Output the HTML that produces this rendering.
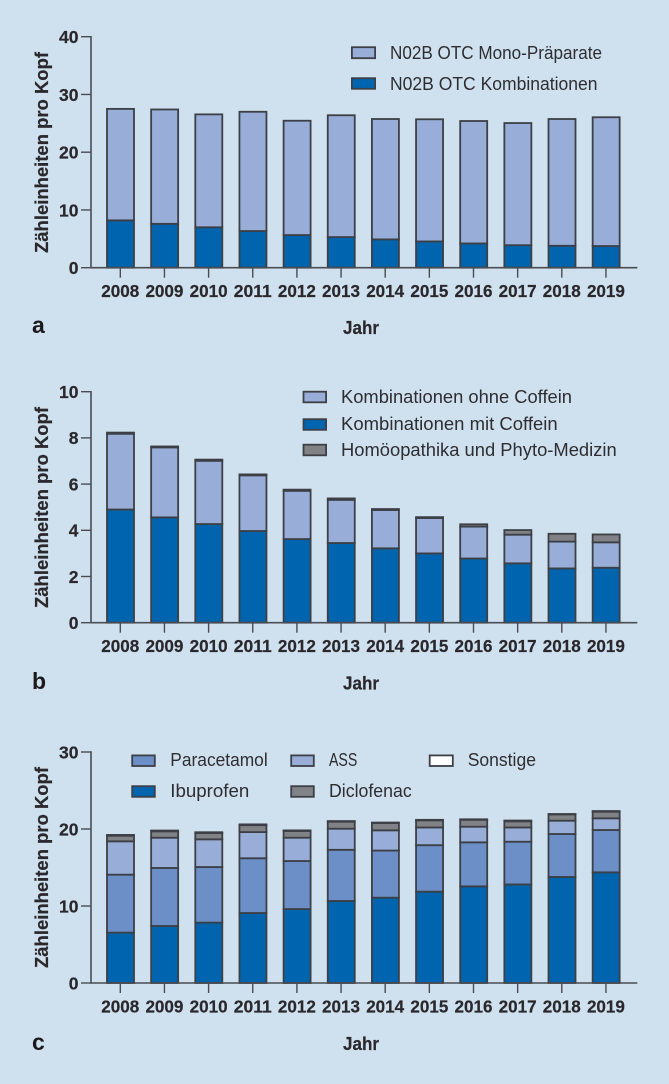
<!DOCTYPE html>
<html lang="de">
<head>
<meta charset="utf-8">
<title>Zähleinheiten pro Kopf</title>
<style>
html,body{margin:0;padding:0;background:#cfe1ee;}
svg{display:block;font-family:"Liberation Sans",sans-serif;}
.t{font-size:18px;fill:#2e2d31;}
.b{font-size:18px;font-weight:bold;fill:#2a282c;stroke:#2a282c;stroke-width:0.2;}
.n{font-size:17.5px;font-weight:bold;fill:#2a282c;stroke:#2a282c;stroke-width:0.2;}
.l{font-size:23px;font-weight:bold;fill:#1c1a1c;}
.s{stroke:#3c3f45;stroke-width:1.8;}
</style>
</head>
<body>
<svg id="chart" xmlns="http://www.w3.org/2000/svg" width="669" height="1084" viewBox="0 0 669 1084">
  <rect width="669" height="1084" fill="#cfe1ee"/>

  <g>
    <text class="b" transform="translate(48,253) rotate(-90)" textLength="201" lengthAdjust="spacingAndGlyphs">Zähleinheiten pro Kopf</text>
    <text class="b" x="343" y="334" textLength="36" lengthAdjust="spacingAndGlyphs">Jahr</text>
    <text class="l" x="32" y="333">a</text>
    <g>
      <rect class="s" x="351.9" y="47.2" width="23.2" height="11" fill="#98aed8"/>
      <text class="t" x="390" y="59" textLength="212" lengthAdjust="spacingAndGlyphs">N02B OTC Mono-Präparate</text>
      <rect class="s" x="351.9" y="78.2" width="23.2" height="10.6" fill="#0065ae"/>
      <text class="t" x="390" y="90" textLength="207.500" lengthAdjust="spacingAndGlyphs">N02B OTC Kombinationen</text>
    </g>
  </g>

  <g>
    <text class="b" transform="translate(48,608) rotate(-90)" textLength="201" lengthAdjust="spacingAndGlyphs">Zähleinheiten pro Kopf</text>
    <text class="b" x="343" y="689.500" textLength="36" lengthAdjust="spacingAndGlyphs">Jahr</text>
    <text class="l" x="32" y="689">b</text>
    <g>
      <rect class="s" x="303.500" y="391.700" width="22.600" height="10.600" fill="#98aed8"/>
      <text class="t" x="341" y="403" textLength="231" lengthAdjust="spacingAndGlyphs">Kombinationen ohne Coffein</text>
      <rect class="s" x="303.500" y="419.200" width="22.600" height="10.600" fill="#0065ae"/>
      <text class="t" x="341" y="430" textLength="216.700" lengthAdjust="spacingAndGlyphs">Kombinationen mit Coffein</text>
      <rect class="s" x="303.500" y="444.700" width="22.600" height="10.600" fill="#808285"/>
      <text class="t" x="341" y="456" textLength="275.700" lengthAdjust="spacingAndGlyphs">Homöopathika und Phyto-Medizin</text>
    </g>
  </g>

  <g>
    <text class="b" transform="translate(48,968) rotate(-90)" textLength="201" lengthAdjust="spacingAndGlyphs">Zähleinheiten pro Kopf</text>
    <text class="b" x="343" y="1050" textLength="36" lengthAdjust="spacingAndGlyphs">Jahr</text>
    <text class="l" x="32" y="1050">c</text>
    <g>
      <rect class="s" x="132.200" y="755.400" width="22.600" height="10.600" fill="#6b8fc6"/>
      <text class="t" x="170.300" y="766" textLength="97.400" lengthAdjust="spacingAndGlyphs">Paracetamol</text>
      <rect class="s" x="132.200" y="786.200" width="22.600" height="10.600" fill="#0065ae"/>
      <text class="t" x="170.300" y="797" textLength="79" lengthAdjust="spacingAndGlyphs">Ibuprofen</text>
      <rect class="s" x="291.200" y="755.400" width="22.600" height="10.600" fill="#98aed8"/>
      <text class="t" x="329" y="766" textLength="28.300" lengthAdjust="spacingAndGlyphs">ASS</text>
      <rect class="s" x="291.200" y="786.200" width="22.600" height="10.600" fill="#808285"/>
      <text class="t" x="329" y="797" textLength="82.700" lengthAdjust="spacingAndGlyphs">Diclofenac</text>
      <rect class="s" x="429.700" y="755.400" width="23.100" height="10.600" fill="#ffffff"/>
      <text class="t" x="467.700" y="766" textLength="68.300" lengthAdjust="spacingAndGlyphs">Sonstige</text>
    </g>
  </g>
</svg>
<script>
const years = ["2008","2009","2010","2011","2012","2013","2014","2015","2016","2017","2018","2019"];

const ticksA = [0,10,20,30,40];
const kombinationen = [8.2,7.6,7.0,6.35,5.65,5.3,4.9,4.55,4.2,3.9,3.8,3.75];
const monoPraeparate = [19.3,19.8,19.55,20.65,19.8,21.1,20.85,21.15,21.2,21.15,21.95,22.3];

const ticksB = [0,2,4,6,8,10];
const mitCoffein = [4.9,4.56,4.27,3.97,3.62,3.45,3.22,3.0,2.78,2.57,2.35,2.38];
const ohneCoffein = [3.28,3.03,2.74,2.41,2.09,1.87,1.66,1.53,1.38,1.24,1.16,1.1];
const homoeopathika = [0.05,0.04,0.05,0.04,0.05,0.06,0.04,0.04,0.1,0.2,0.34,0.34];

const ticksC = [0,10,20,30];
const ibuprofen = [6.54,7.4,7.84,9.09,9.6,10.65,11.08,11.86,12.55,12.8,13.77,14.37];
const paracetamol = [7.53,7.54,7.22,7.11,6.24,6.65,6.12,6.04,5.72,5.55,5.58,5.5];
const ass = [4.33,3.93,3.6,3.4,3.03,2.74,2.63,2.3,2.03,1.85,1.73,1.52];
const diclofenac = [0.73,0.83,0.82,0.9,0.87,0.91,0.95,0.93,0.9,0.8,0.82,0.86];
const sonstige = [0.1,0.1,0.1,0.1,0.08,0.08,0.06,0.06,0.06,0.1,0.05,0.08];

const svg = document.getElementById('chart');
const NS = 'http://www.w3.org/2000/svg';
const STROKE = '#3c3f45';
const AXIS = '#4a4c52';
const AXIS_LEFT = 91;
const AXIS_RIGHT = 637.3;
const PLOT_HEIGHT = 231;
const FIRST_CENTER = 120.5;
const STEP = 44.15;
const BAR_WIDTH = 27;

function make(parent, tag, props, text) {
  const el = document.createElementNS(NS, tag);
  for (const k in props) el.setAttribute(k, props[k]);
  if (text !== undefined) el.textContent = text;
  parent.appendChild(el);
  return el;
}

function drawPanel(id, baseY, ticks, series) {
  const maxVal = ticks[ticks.length - 1];
  const yScale = v => baseY - v / maxVal * PLOT_HEIGHT;
  const xScale = i => FIRST_CENTER + i * STEP;

  const group = make(svg, 'g', {});
  
  

  years.forEach((year, i) => {
    let acc = 0;
    series.forEach(s => {
      const v = s.values[i];
      const top = yScale(acc + v);
      const bottom = yScale(acc);
      const bar = make(group, 'rect', {
        x: xScale(i) - BAR_WIDTH / 2,
        y: top,
        width: BAR_WIDTH,
        height: Math.max(bottom - top, 0.1),
        fill: s.color,
        stroke: STROKE,
        'stroke-width': 1.8
      });
      
      
      acc += v;
    });
  });

  const axisY = make(svg, 'line', {x1: AXIS_LEFT, x2: AXIS_LEFT, y1: yScale(maxVal) - 0.7, y2: baseY + 0.7, stroke: AXIS, 'stroke-width': 1.6});
  
  

  const axisX = make(svg, 'line', {x1: AXIS_LEFT, x2: AXIS_RIGHT, y1: baseY, y2: baseY, stroke: AXIS, 'stroke-width': 1.6});
  
  

  ticks.forEach(t => {
    const y = yScale(t);
    const mark = make(svg, 'line', {x1: 81, x2: AXIS_LEFT, y1: y, y2: y, stroke: AXIS, 'stroke-width': 1.4});
    
    
    const label = make(svg, 'text', {x: 78.500, y: y + 6.3, 'text-anchor': 'end', class: 'n'}, String(t));
    
    
  });

  years.forEach((year, i) => {
    const x = xScale(i) - 0.2;
    const mark = make(svg, 'line', {x1: x, x2: x, y1: baseY, y2: baseY + 10, stroke: AXIS, 'stroke-width': 1.4});
    
    
    const label = make(svg, 'text', {x: x, y: baseY + 29.3, 'text-anchor': 'middle', class: 'n', textLength: 38, lengthAdjust: 'spacingAndGlyphs'}, year);
    
    
  });
}

drawPanel('a', 267.7, ticksA, [
  {name: 'kombinationen', values: kombinationen, color: '#0065ae'},
  {name: 'mono', values: monoPraeparate, color: '#98aed8'}
]);
drawPanel('b', 622.7, ticksB, [
  {name: 'mit-coffein', values: mitCoffein, color: '#0065ae'},
  {name: 'ohne-coffein', values: ohneCoffein, color: '#98aed8'},
  {name: 'homoeopathika', values: homoeopathika, color: '#808285'}
]);
drawPanel('c', 983, ticksC, [
  {name: 'ibuprofen', values: ibuprofen, color: '#0065ae'},
  {name: 'paracetamol', values: paracetamol, color: '#6b8fc6'},
  {name: 'ass', values: ass, color: '#98aed8'},
  {name: 'diclofenac', values: diclofenac, color: '#808285'},
  {name: 'sonstige', values: sonstige, color: '#ffffff'}
]);
</script>
</body>
</html>
